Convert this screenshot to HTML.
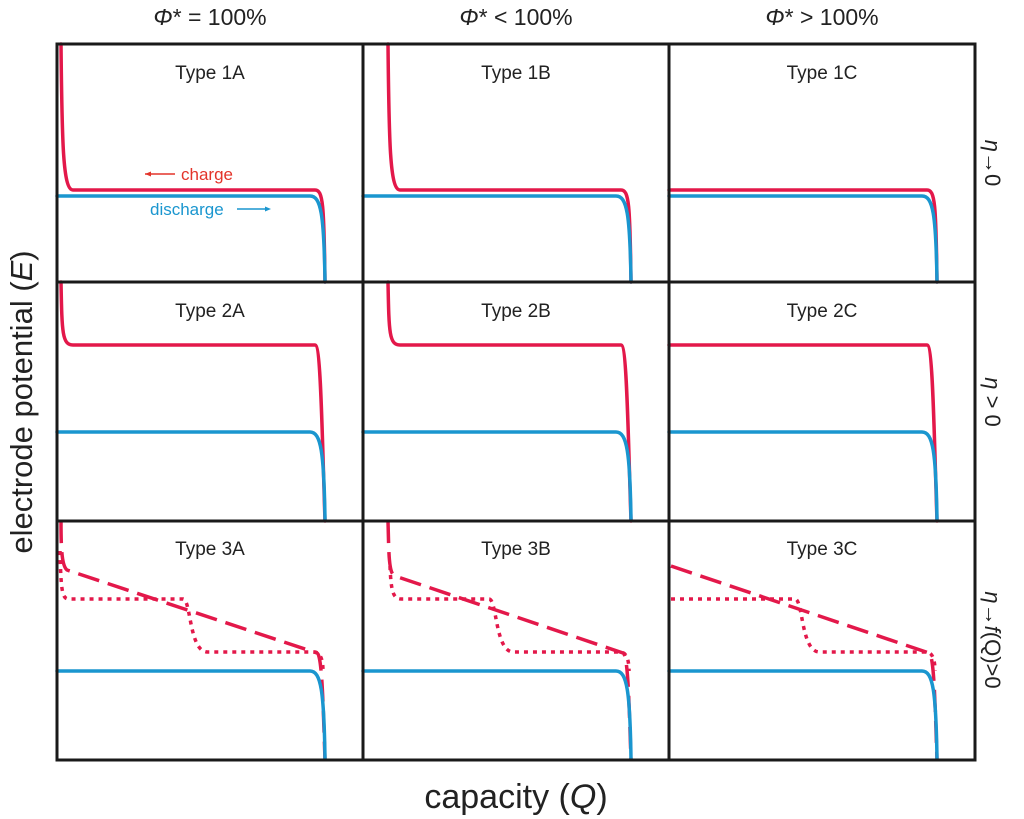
<!DOCTYPE html>
<html><head><meta charset="utf-8"><style>body{margin:0;background:#fff}svg{display:block}</style></head><body>
<svg width="1024" height="819" viewBox="0 0 1024 819" xmlns="http://www.w3.org/2000/svg" font-family="Liberation Sans, DejaVu Sans, sans-serif">
<defs>
<path id="dis1" d="M0,152 L253,152 C264,152 267,170 268,238" fill="none" stroke="#1a96cf" stroke-width="3.5"/>
<path id="dis2" d="M0,150 L253,150 C264,150 267,170 268,238" fill="none" stroke="#1a96cf" stroke-width="3.5"/>
</defs>
<g fill="none" stroke-width="3.5" stroke-linecap="round">
<!-- Row 1 -->
<g transform="translate(57,44)">
<path d="M4,0 C5,100 6,146 16,146 L258,146 C266,146 267,160 268,238" stroke="#e3184a"/><use href="#dis1"/></g>
<g transform="translate(363,44)">
<path d="M25,0 C26,100 27,146 37,146 L258,146 C266,146 267,160 268,238" stroke="#e3184a"/><use href="#dis1"/></g>
<g transform="translate(669,44)">
<path d="M0,146 L258,146 C266,146 267,160 268,238" stroke="#e3184a"/><use href="#dis1"/></g>
<!-- Row 2 -->
<g transform="translate(57,282)">
<path d="M4,0 C5,50 5,63 16,63 L258,63 C264,63 265,150 268,239" stroke="#e3184a"/><use href="#dis2"/></g>
<g transform="translate(363,282)">
<path d="M25,0 C26,50 26,63 37,63 L258,63 C264,63 265,150 268,239" stroke="#e3184a"/><use href="#dis2"/></g>
<g transform="translate(669,282)">
<path d="M0,63 L258,63 C264,63 265,150 268,239" stroke="#e3184a"/><use href="#dis2"/></g>
<!-- Row 3 -->
<g transform="translate(57,521)">
<path d="M4,0 C4,30 5,45 10,49 L260,132 C265,134 266,180 268,239" stroke="#e3184a" stroke-dasharray="22,9" stroke-linecap="butt"/>
<path d="M3,30 C4,70 5,78 12,78 L126,78 C134,78 132,130 150,131 L258,131 C264,132 266,140 266,150" stroke="#e3184a" stroke-dasharray="4,5" stroke-linecap="butt"/>
<use href="#dis2"/></g>
<g transform="translate(363,521)">
<path d="M25,0 C26,40 26,52 32,55 L260,132 C265,134 266,180 268,239" stroke="#e3184a" stroke-dasharray="22,9" stroke-linecap="butt"/>
<path d="M27,45 C28,70 30,78 38,78 L126,78 C134,78 132,130 150,131 L258,131 C264,132 266,140 266,150" stroke="#e3184a" stroke-dasharray="4,5" stroke-linecap="butt"/>
<use href="#dis2"/></g>
<g transform="translate(669,521)">
<path d="M2,45 L260,132 C265,134 266,180 268,239" stroke="#e3184a" stroke-dasharray="22,9" stroke-linecap="butt"/>
<path d="M2,78 L126,78 C134,78 132,130 150,131 L258,131 C264,132 266,140 266,150" stroke="#e3184a" stroke-dasharray="4,5" stroke-linecap="butt"/>
<use href="#dis2"/></g>
</g>
<!-- grid -->
<g stroke="#1a1a1a" stroke-width="3" fill="none">
<rect x="57" y="44" width="918" height="716"/>
<line x1="363" y1="44" x2="363" y2="760"/><line x1="669" y1="44" x2="669" y2="760"/>
<line x1="57" y1="282" x2="975" y2="282"/><line x1="57" y1="521" x2="975" y2="521"/>
</g>
<g font-size="19" fill="#222" text-anchor="middle">
<text x="210" y="79">Type 1A</text><text x="516" y="79">Type 1B</text><text x="822" y="79">Type 1C</text>
<text x="210" y="317">Type 2A</text><text x="516" y="317">Type 2B</text><text x="822" y="317">Type 2C</text>
<text x="210" y="555">Type 3A</text><text x="516" y="555">Type 3B</text><text x="822" y="555">Type 3C</text>
</g>
<text x="181" y="180" font-size="17" fill="#e3342a">charge</text>
<path d="M145,174 H175" stroke="#e3342a" stroke-width="1.5"/><path d="M145,174 l6,-2.5 v5z" fill="#e3342a"/>
<text x="150" y="215" font-size="17" fill="#1a96cf">discharge</text>
<path d="M237,209 H268" stroke="#1a96cf" stroke-width="1.5"/><path d="M271,209 l-6,-2.5 v5z" fill="#1a96cf"/>
<g font-size="23" fill="#222" text-anchor="middle">
<text x="210" y="25"><tspan font-style="italic">Φ</tspan>* = 100%</text>
<text x="516" y="25"><tspan font-style="italic">Φ</tspan>* &lt; 100%</text>
<text x="822" y="25"><tspan font-style="italic">Φ</tspan>* &gt; 100%</text>
</g>
<text x="516" y="808" font-size="34" fill="#222" text-anchor="middle">capacity (<tspan font-style="italic">Q</tspan>)</text>
<text transform="translate(32,402) rotate(-90)" font-size="31" fill="#222" text-anchor="middle">electrode potential (<tspan font-style="italic">E</tspan>)</text>
<g font-size="22" fill="#222" text-anchor="middle">
<text transform="translate(985,163) rotate(90)"><tspan font-style="italic">η</tspan>→0</text>
<text transform="translate(985,402) rotate(90)"><tspan font-style="italic">η</tspan> &gt; 0</text>
<text transform="translate(985,640) rotate(90)"><tspan font-style="italic">η</tspan>→<tspan font-style="italic">f</tspan>(Q)&gt;0</text>
</g>
</svg>
</body></html>
